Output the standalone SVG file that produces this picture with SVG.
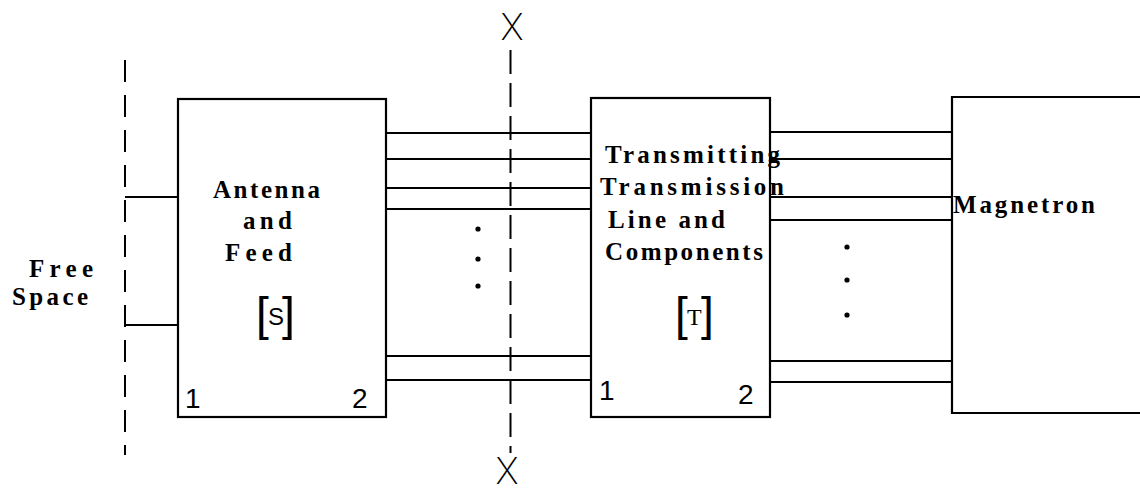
<svg xmlns="http://www.w3.org/2000/svg" width="1140" height="493" viewBox="0 0 1140 493">
<style>
  .box { fill: #fff; stroke: #000; stroke-width: 2.2; }
  .ln { stroke: #000; stroke-width: 1.8; fill: none; }
  .dash1 { stroke: #000; stroke-width: 2; stroke-dasharray: 22 13; fill: none; }
  .dash2 { stroke: #000; stroke-width: 2; stroke-dasharray: 24 9; fill: none; }
  .lbl { font-family: "Liberation Serif", "DejaVu Serif", serif; font-size: 25px; font-weight: bold; fill: #000; }
  .num { font-family: "Liberation Sans", sans-serif; font-size: 28px; fill: #000; }
  .brk { font-family: "Liberation Sans", sans-serif; font-size: 46px; fill: #000; font-weight: 300; }
  .mat { font-family: "Liberation Sans", sans-serif; font-size: 24px; fill: #000; }
  .matT { font-family: "Liberation Serif", serif; font-size: 24px; fill: #000; }
  .xm { font-family: "Inter", "Liberation Sans", sans-serif; font-size: 36px; font-weight: 200; fill: #000; }
  .dot { fill: #000; }
</style>

<g id="free-space">
  <path class="dash1" d="M125 60 V455"/>
  <text class="lbl" x="29" y="277" textLength="64" lengthAdjust="spacing">Free</text>
  <text class="lbl" x="12" y="305" textLength="76" lengthAdjust="spacing">Space</text>
</g>

<g id="reference-plane">
  <path class="dash2" d="M510.5 50 V453"/>
  <text class="xm" x="512" y="40" text-anchor="middle">X</text>
  <text class="xm" x="507" y="484" text-anchor="middle">X</text>
</g>

<g id="connectors">
  <path class="ln" d="M125 197 H178 M125 325 H178"/>
  <path class="ln" d="M386 133 H591 M386 159 H591 M386 188 H591 M386 209 H591 M386 356 H591 M386 380 H591"/>
  <path class="ln" d="M770 132 H952 M770 159 H952 M770 197 H952 M770 220 H952 M770 361 H952 M770 382 H952"/>
  <circle class="dot" cx="478" cy="229" r="2.6"/>
  <circle class="dot" cx="478" cy="259" r="2.6"/>
  <circle class="dot" cx="478" cy="286" r="2.6"/>
  <circle class="dot" cx="847" cy="247" r="2.6"/>
  <circle class="dot" cx="847" cy="280" r="2.6"/>
  <circle class="dot" cx="847" cy="315" r="2.6"/>
</g>

<g id="antenna-feed">
  <rect class="box" x="178" y="99" width="208" height="318"/>
  <text class="lbl" x="213" y="198" textLength="107" lengthAdjust="spacing">Antenna</text>
  <text class="lbl" x="243" y="229" textLength="49" lengthAdjust="spacing">and</text>
  <text class="lbl" x="225" y="261" textLength="67" lengthAdjust="spacing">Feed</text>
  <text class="brk" x="256" y="330">[</text>
  <text class="mat" x="268" y="325">S</text>
  <text class="brk" x="282" y="330">]</text>
  <text class="num" x="185" y="408">1</text>
  <text class="num" x="352" y="408">2</text>
</g>

<g id="transmission-line">
  <rect class="box" x="591" y="98" width="179" height="319"/>
  <text class="lbl" x="605" y="163" textLength="175" lengthAdjust="spacing">Transmitting</text>
  <text class="lbl" x="600" y="195" textLength="184" lengthAdjust="spacing">Transmission</text>
  <text class="lbl" x="608" y="228" textLength="117" lengthAdjust="spacing">Line and</text>
  <text class="lbl" x="605" y="260" textLength="158" lengthAdjust="spacing">Components</text>
  <text class="brk" x="675" y="330">[</text>
  <text class="matT" x="687" y="325">T</text>
  <text class="brk" x="701" y="330">]</text>
  <text class="num" x="599" y="400">1</text>
  <text class="num" x="738" y="404">2</text>
</g>

<g id="magnetron">
  <path class="box" d="M1141 97 H952 V413 H1141"/>
  <text class="lbl" x="953" y="213" textLength="142" lengthAdjust="spacing">Magnetron</text>
</g>
</svg>
